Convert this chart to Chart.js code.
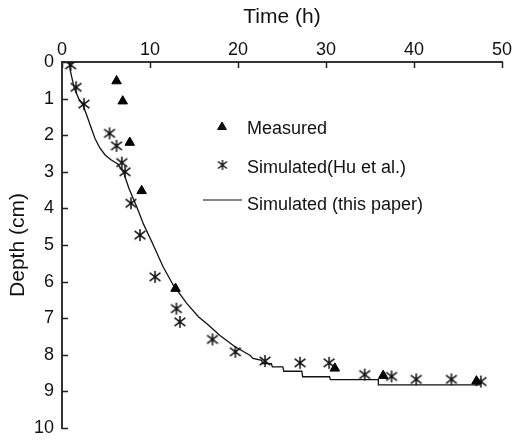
<!DOCTYPE html>
<html>
<head>
<meta charset="utf-8">
<style>
  body { margin: 0; background: #fff; }
  #wrap { width: 513px; height: 441px; }
</style>
</head>
<body>
<div id="wrap"><canvas id="chart" width="513" height="441"></canvas></div>
<script src="https://cdn.jsdelivr.net/npm/chart.js"></script>
<script>
// measured points (time in h, depth in cm)
const measuredTime  = [6.2, 6.9, 7.7, 9.05, 12.9, 31.0, 36.5, 47.1];
const measuredDepth = [0.52, 1.07, 2.2, 3.52, 6.19, 8.37, 8.57, 8.72];

// simulated by Hu et al.
const huTime  = [0.98, 1.6, 2.5, 5.4, 6.2, 6.8, 7.16, 7.84, 8.86, 10.57, 13.0, 13.4, 17.1, 19.7, 23.07, 27.05, 30.35, 34.4, 37.45, 40.25, 44.25, 47.6];
const huDepth = [0.08, 0.69, 1.15, 1.95, 2.29, 2.75, 3.0, 3.86, 4.73, 5.87, 6.74, 7.1, 7.58, 7.92, 8.17, 8.22, 8.22, 8.54, 8.59, 8.67, 8.67, 8.73];

// simulated (this paper), stepped curve
const lineTime  = [0.8, 1.0, 1.4, 1.9, 2.4, 2.8, 3.2, 3.75, 4.3, 4.9, 5.6, 6.3, 7.0, 7.6, 8.5, 9.3, 10.2, 11.5, 12.65, 14.2, 15.5, 16.6, 17.95, 19.66, 21.4, 21.7, 22.7, 22.8, 23.8, 23.9, 25.1, 25.2, 27.25, 27.35, 30.4, 30.5, 35.95, 35.95, 47.5];
const lineDepth = [0.0, 0.3, 0.72, 1.0, 1.18, 1.45, 1.72, 2.09, 2.35, 2.54, 2.68, 2.78, 3.02, 3.45, 3.96, 4.45, 4.91, 5.6, 6.1, 6.6, 6.96, 7.18, 7.47, 7.78, 8.02, 8.1, 8.15, 8.24, 8.24, 8.33, 8.33, 8.45, 8.45, 8.6, 8.6, 8.68, 8.68, 8.82, 8.82];

const xTicks = [0, 10, 20, 30, 40, 50];
const yTicks = [0, 1, 2, 3, 4, 5, 6, 7, 8, 9, 10];

const FONT = "'Liberation Sans', Arial, Helvetica, sans-serif";
const INK = '#111';

function toXY(xs, ys) {
  return xs.map((x, i) => ({ x: x, y: ys[i] }));
}

// asterisk marker: vertical bar + X
function makeStar(size, lw) {
  const c = document.createElement('canvas');
  c.width = size; c.height = size;
  const g = c.getContext('2d');
  const m = size / 2, r = size / 2 - 1;
  g.strokeStyle = INK;
  g.lineWidth = lw;
  g.beginPath();
  g.moveTo(m, m - r); g.lineTo(m, m + r);
  g.moveTo(m - r * 0.9, m - r * 0.7); g.lineTo(m + r * 0.9, m + r * 0.7);
  g.moveTo(m - r * 0.9, m + r * 0.7); g.lineTo(m + r * 0.9, m - r * 0.7);
  g.stroke();
  return c;
}
const starImg = makeStar(14, 1.5);
const starSmall = makeStar(12, 1.4);

// no extra label padding, so the plot area is set by layout padding only
function noPad(s) {
  s.paddingTop = 0; s.paddingBottom = 0; s.paddingLeft = 0; s.paddingRight = 0;
}

// inward tick marks on both axes
const innerTicks = {
  id: 'innerTicks',
  afterDraw(chart) {
    const ctx = chart.ctx;
    const { x, y } = chart.scales;
    const area = chart.chartArea;
    ctx.save();
    ctx.strokeStyle = '#222';
    ctx.lineWidth = 1.5;
    ctx.beginPath();
    xTicks.forEach(v => {
      const px = Math.round(x.getPixelForValue(v)) + 0.5;
      ctx.moveTo(px, area.top); ctx.lineTo(px, area.top + 6);
    });
    yTicks.forEach(v => {
      const py = Math.round(y.getPixelForValue(v)) + 0.5;
      ctx.moveTo(area.left, py); ctx.lineTo(area.left + 6, py);
    });
    ctx.stroke();
    ctx.restore();
  }
};

// legend drawn inside plot area
const legendBox = {
  id: 'legendBox',
  afterDraw(chart) {
    const ctx = chart.ctx;
    ctx.save();
    Chart.helpers.drawPoint(ctx, { pointStyle: 'triangle', radius: 5, borderWidth: 1 }, 222, 127);
    ctx.fillStyle = INK;
    ctx.fill();
    ctx.drawImage(starSmall, 222.5 - 6, 165 - 6);
    ctx.strokeStyle = INK;
    ctx.lineWidth = 1.2;
    ctx.beginPath();
    ctx.moveTo(203, 200); ctx.lineTo(242, 200);
    ctx.stroke();
    ctx.font = '18px ' + FONT;
    ctx.fillStyle = INK;
    ctx.textBaseline = 'middle';
    ctx.textAlign = 'left';
    ctx.fillText('Measured', 247, 129);
    ctx.fillText('Simulated(Hu et al.)', 247, 168);
    ctx.fillText('Simulated (this paper)', 247, 205);
    ctx.restore();
  }
};

const myChart = new Chart(document.getElementById('chart'), {
  type: 'scatter',
  data: {
    datasets: [
      {
        label: 'Simulated (this paper)',
        data: toXY(lineTime, lineDepth),
        showLine: true,
        borderColor: INK,
        borderWidth: 1.3,
        pointRadius: 0,
        tension: 0,
        fill: false,
        order: 3
      },
      {
        label: 'Simulated(Hu et al.)',
        data: toXY(huTime, huDepth),
        pointStyle: starImg,
        pointRadius: 7,
        order: 2
      },
      {
        label: 'Measured',
        data: toXY(measuredTime, measuredDepth),
        pointStyle: 'triangle',
        pointRadius: 5.5,
        backgroundColor: '#000',
        borderColor: '#000',
        borderWidth: 1,
        order: 1
      }
    ]
  },
  options: {
    responsive: false,
    animation: false,
    layout: { padding: { top: 0, left: 0, right: 11, bottom: 13 } },
    plugins: { legend: { display: false }, tooltip: { enabled: false } },
    scales: {
      x: {
        type: 'linear',
        position: 'top',
        min: 0, max: 50,
        afterBuildTicks: s => { s.ticks = xTicks.map(v => ({ value: v })); },
        ticks: { padding: 1, color: INK, font: { size: 18, family: FONT } },
        grid: { drawOnChartArea: false, drawTicks: false, tickLength: 0 },
        border: { color: '#333', width: 2 },
        title: { display: true, text: 'Time (h)', color: INK, font: { size: 21, family: FONT }, padding: { top: 5, bottom: 0 } },
        afterFit: s => { s.height = 62; noPad(s); }
      },
      y: {
        type: 'linear',
        reverse: true,
        min: 0, max: 10,
        afterBuildTicks: s => { s.ticks = yTicks.map(v => ({ value: v })); },
        ticks: { padding: 8, color: INK, font: { size: 18, family: FONT } },
        grid: { drawOnChartArea: false, drawTicks: false, tickLength: 0 },
        border: { color: '#333', width: 2 },
        title: { display: true, text: 'Depth (cm)', color: INK, font: { size: 21, family: FONT }, padding: { top: 6, bottom: 0 } },
        afterFit: s => { s.width = 62; noPad(s); }
      }
    }
  },
  plugins: [innerTicks, legendBox]
});
</script>
</body>
</html>
